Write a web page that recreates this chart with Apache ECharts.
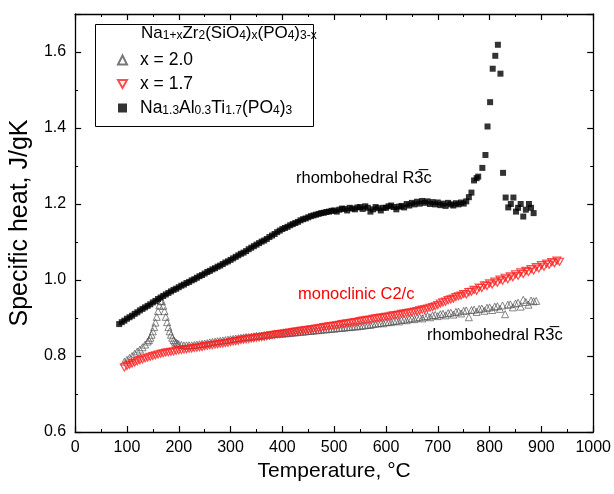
<!DOCTYPE html>
<html>
<head>
<meta charset="utf-8">
<script src="https://cdn.jsdelivr.net/npm/echarts@6/dist/echarts.min.js"></script>
<style>html,body{margin:0;padding:0;background:#fff;}#c{width:614px;height:494px;}</style>
</head>
<body>
<div id="c"></div>
<script>
// ---- data (temperature °C, specific heat J/gK) ----
var seriesNames = ['x = 2.0', 'x = 1.7', 'Na1.3Al0.3Ti1.7(PO4)3'];

// x = 2.0
var tempX20 = [95,100,105,110,115,120,125,130,135,140,142.5,145,147.5,150,152.5,155,157.5,160,162.5,165,167.5,170,172.5,175,177.5,180,182.5,185,187.5,190,192.5,195,197.5,200,205,210,215,220,225,230,235,240,245,250,255,260,265,270,275,280,285,290,295,300,305,310,315,320,325,330,335,340,345,350,355,360,365,370,375,380,385,390,395,400,405,410,415,420,425,430,435,440,445,450,455,460,465,470,475,480,485,490,495,500,505,510,515,520,525,530,535,540,545,550,555,560,565,570,575,580,585,590,595,600,605,610,615,620,625,630,635,640,645,650,655,660,665,670,675,680,685,690,695,700,705,710,715,720,725,730,735,740,745,750,755,760,765,770,775,780,785,790,795,800,805,810,815,820,825,830,835,840,845,850,855,860,865,870,875,880,885,890];
var cpX20 = [0.785,0.790,0.795,0.800,0.806,0.812,0.817,0.823,0.830,0.838,0.842,0.848,0.856,0.865,0.876,0.888,0.903,0.918,0.933,0.945,0.944,0.932,0.918,0.903,0.889,0.876,0.865,0.856,0.848,0.842,0.838,0.835,0.833,0.831,0.829,0.828,0.828,0.828,0.828,0.829,0.830,0.831,0.832,0.833,0.834,0.836,0.837,0.838,0.839,0.840,0.841,0.842,0.843,0.844,0.845,0.846,0.847,0.848,0.849,0.850,0.850,0.851,0.852,0.853,0.853,0.854,0.855,0.856,0.856,0.857,0.858,0.859,0.859,0.859,0.860,0.860,0.861,0.862,0.862,0.863,0.864,0.864,0.865,0.866,0.866,0.867,0.868,0.868,0.869,0.870,0.870,0.871,0.872,0.872,0.873,0.874,0.874,0.875,0.876,0.876,0.877,0.878,0.878,0.879,0.880,0.881,0.882,0.882,0.884,0.885,0.886,0.887,0.886,0.889,0.890,0.889,0.892,0.893,0.891,0.895,0.896,0.894,0.898,0.899,0.897,0.901,0.902,0.899,0.904,0.905,0.902,0.907,0.908,0.905,0.910,0.911,0.907,0.913,0.914,0.909,0.916,0.917,0.912,0.919,0.920,0.902,0.921,0.922,0.916,0.924,0.925,0.919,0.927,0.928,0.921,0.930,0.931,0.924,0.933,0.910,0.935,0.936,0.928,0.938,0.940,0.930,0.948,0.942,0.935,0.946,0.944,0.945];

// x = 1.7
var tempX17 = [95,100,105,110,115,120,125,130,135,140,145,150,155,160,165,170,175,180,185,190,195,200,205,210,215,220,225,230,235,240,245,250,255,260,265,270,275,280,285,290,295,300,305,310,315,320,325,330,335,340,345,350,355,360,365,370,375,380,385,390,395,400,405,410,415,420,425,430,435,440,445,450,455,460,465,470,475,480,485,490,495,500,505,510,515,520,525,530,535,540,545,550,555,560,565,570,575,580,585,590,595,600,605,610,615,620,625,630,635,640,645,650,655,660,665,670,675,680,685,690,695,700,705,710,715,720,725,730,735,740,745,750,755,760,765,770,775,780,785,790,795,800,805,810,815,820,825,830,835,840,845,850,855,860,865,870,875,880,885,890,895,900,905,910,915,920,925,930,935];
var cpX17 = [0.770,0.774,0.777,0.780,0.783,0.786,0.789,0.791,0.794,0.796,0.798,0.800,0.802,0.804,0.806,0.807,0.809,0.810,0.811,0.812,0.814,0.815,0.816,0.817,0.818,0.819,0.820,0.821,0.822,0.823,0.824,0.826,0.827,0.828,0.829,0.830,0.831,0.832,0.833,0.834,0.835,0.837,0.838,0.839,0.840,0.842,0.843,0.844,0.845,0.846,0.847,0.848,0.849,0.850,0.851,0.852,0.853,0.855,0.856,0.857,0.858,0.859,0.860,0.861,0.862,0.863,0.864,0.865,0.866,0.867,0.868,0.869,0.870,0.871,0.872,0.873,0.874,0.876,0.877,0.878,0.879,0.880,0.881,0.882,0.884,0.885,0.886,0.887,0.888,0.889,0.890,0.892,0.893,0.894,0.895,0.896,0.898,0.899,0.900,0.901,0.902,0.903,0.904,0.906,0.907,0.908,0.909,0.911,0.912,0.913,0.914,0.915,0.917,0.918,0.920,0.922,0.923,0.925,0.927,0.929,0.931,0.934,0.938,0.941,0.943,0.947,0.949,0.951,0.955,0.957,0.959,0.963,0.962,0.968,0.969,0.974,0.972,0.980,0.979,0.986,0.984,0.991,0.988,0.996,0.993,1.001,0.998,1.006,1.002,1.010,1.007,1.015,1.011,1.020,1.016,1.024,1.021,1.029,1.025,1.034,1.030,1.039,1.035,1.043,1.040,1.047,1.044,1.051,1.048];

// Na1.3Al0.3Ti1.7(PO4)3
var tempNATP = [85,90,95,100,105,110,115,120,125,130,135,140,145,150,155,160,165,170,175,180,185,190,195,200,205,210,215,220,225,230,235,240,245,250,255,260,265,270,275,280,285,290,295,300,305,310,315,320,325,330,335,340,345,350,355,360,365,370,375,380,385,390,395,400,405,410,415,420,425,430,435,440,445,450,455,460,465,470,475,480,485,490,495,500,505,510,515,520,525,530,535,540,545,550,555,560,565,570,575,580,585,590,595,600,605,610,615,620,625,630,635,640,645,650,655,660,665,670,675,680,685,690,695,700,705,710,715,720,725,730,735,740,745,750,755,760,765,770,775,778,786,792,796,801,806,811,816,821,826,831,836,841,846,851,855,860,865,870,876,880,885];
var cpNATP = [0.884,0.889,0.893,0.898,0.902,0.906,0.911,0.915,0.920,0.924,0.928,0.932,0.936,0.941,0.945,0.950,0.954,0.958,0.962,0.966,0.970,0.974,0.977,0.981,0.985,0.988,0.992,0.995,0.999,1.002,1.006,1.010,1.013,1.017,1.021,1.024,1.028,1.031,1.035,1.038,1.042,1.046,1.049,1.053,1.057,1.061,1.065,1.069,1.072,1.076,1.081,1.085,1.089,1.093,1.097,1.101,1.104,1.108,1.113,1.117,1.121,1.126,1.130,1.134,1.137,1.140,1.144,1.147,1.150,1.153,1.157,1.160,1.162,1.165,1.168,1.170,1.172,1.174,1.176,1.177,1.179,1.180,1.182,1.183,1.180,1.185,1.188,1.187,1.183,1.190,1.188,1.186,1.191,1.192,1.187,1.194,1.190,1.180,1.186,1.192,1.189,1.183,1.190,1.190,1.194,1.196,1.192,1.186,1.193,1.195,1.191,1.200,1.196,1.203,1.199,1.206,1.201,1.208,1.203,1.207,1.200,1.205,1.199,1.204,1.197,1.201,1.195,1.203,1.199,1.196,1.202,1.199,1.204,1.201,1.207,1.218,1.230,1.262,1.268,1.272,1.295,1.329,1.404,1.468,1.556,1.590,1.619,1.543,1.282,1.217,1.191,1.200,1.217,1.180,1.190,1.200,1.167,1.185,1.200,1.190,1.176];

// axis ticks
var xMin = 0, xMax = 1000, xStep = 100;
var yMin = 0.6, yMax = 1.7, yStep = 0.2;

function pairs(xs, ys) { return xs.map(function (x, i) { return [x, ys[i]]; }); }

var downTri = 'path://M0,0 L10,0 L5,9 Z';
var FONT = '"Liberation Sans", Arial, sans-serif';

var chart = echarts.init(document.getElementById('c'), null, { renderer: 'canvas' });

var axisCommon = {
  axisLine: { show: true, onZero: false, lineStyle: { color: '#000', width: 1.3 } },
  axisTick: { show: true, inside: true, length: 6, lineStyle: { color: '#000', width: 1.2 } },
  minorTick: { show: true, splitNumber: 2, length: 3, lineStyle: { color: '#000', width: 1 } },
  splitLine: { show: false }
};

function sub(s) { return '{sub|' + s + '}'; }

var rich = {
  sub: { fontSize: 12, fontFamily: FONT, color: '#000', verticalAlign: 'bottom', lineHeight: 2 }
};

var option = {
  backgroundColor: '#fff',
  animation: false,
  grid: { left: 72, right: 16, top: 14, bottom: 62 },
  xAxis: [
    Object.assign({
      type: 'value', min: xMin, max: xMax, interval: xStep, position: 'bottom',
      name: 'Temperature, °C', nameLocation: 'middle', nameGap: 26,
      nameTextStyle: { fontSize: 21, fontFamily: FONT, color: '#000' },
      axisLabel: { fontSize: 16, fontFamily: FONT, color: '#000', margin: 8,
        formatter: function (v) { return String(v); } }
    }, axisCommon),
    Object.assign({
      type: 'value', min: xMin, max: xMax, interval: xStep, position: 'top',
      axisLabel: { show: false }
    }, axisCommon)
  ],
  yAxis: [
    Object.assign({
      type: 'value', min: yMin, max: yMax, interval: yStep, position: 'left',
      name: 'Specific heat, J/gK', nameLocation: 'middle', nameGap: 38,
      nameTextStyle: { fontSize: 25, fontFamily: FONT, color: '#000' },
      axisLabel: { fontSize: 16, fontFamily: FONT, color: '#000', margin: 9, showMaxLabel: false,
        formatter: function (v) { return v.toFixed(1); } }
    }, axisCommon),
    Object.assign({
      type: 'value', min: yMin, max: yMax, interval: yStep, position: 'right',
      axisLabel: { show: false }
    }, axisCommon)
  ],
  legend: {
    orient: 'vertical', left: 112, top: 46, itemGap: 6,
    itemWidth: 9, itemHeight: 9,
    data: seriesNames,
    textStyle: { fontSize: 17.5, fontFamily: FONT, color: '#000', rich: rich, padding: [0, 0, 0, 8] },
    formatter: function (name) {
      if (name === seriesNames[2]) {
        return 'Na' + sub('1.3') + 'Al' + sub('0.3') + 'Ti' + sub('1.7') + '(PO' + sub('4') + ')' + sub('3');
      }
      return name;
    }
  },
  graphic: [
    { type: 'rect', left: 93, top: 22, shape: { width: 218, height: 102 },
      style: { fill: 'none', stroke: '#000', lineWidth: 1 }, z: 50 },
    { type: 'text', left: 141, top: 25, z: 51,
      style: { text: 'Na' + sub('1+x') + 'Zr' + sub('2') + '(SiO' + sub('4') + ')' + sub('x') + '(PO' + sub('4') + ')' + sub('3-x'),
        fontSize: 17, fontFamily: FONT, fill: '#000', rich: rich } },
    { type: 'text', left: 296, top: 170, z: 51,
      style: { text: 'rhombohedral R3\u0305c', fontSize: 16.5, fontFamily: FONT, fill: '#000' } },
    { type: 'text', left: 298, top: 286, z: 51,
      style: { text: 'monoclinic C2/c', fontSize: 16.5, fontFamily: FONT, fill: '#ff0000' } },
    { type: 'text', left: 427, top: 327, z: 51,
      style: { text: 'rhombohedral R3\u0305c', fontSize: 16.5, fontFamily: FONT, fill: '#000' } }
  ],
  series: [
    {
      name: seriesNames[0], type: 'scatter', data: pairs(tempX20, cpX20),
      symbol: 'triangle', symbolSize: 7,
      itemStyle: { color: 'rgba(255,255,255,0)', borderColor: '#555', borderWidth: 0.9 },
      z: 2
    },
    {
      name: seriesNames[1], type: 'scatter', data: pairs(tempX17, cpX17),
      symbol: downTri, symbolSize: [8, 7],
      itemStyle: { color: 'rgba(255,255,255,0)', borderColor: '#ff2020', borderWidth: 1.2 },
      z: 3
    },
    {
      name: seriesNames[2], type: 'scatter', data: pairs(tempNATP, cpNATP),
      symbol: 'rect', symbolSize: 6,
      itemStyle: { color: '#000' },
      z: 4
    }
  ]
};
chart.setOption(option);
</script>
</body>
</html>
